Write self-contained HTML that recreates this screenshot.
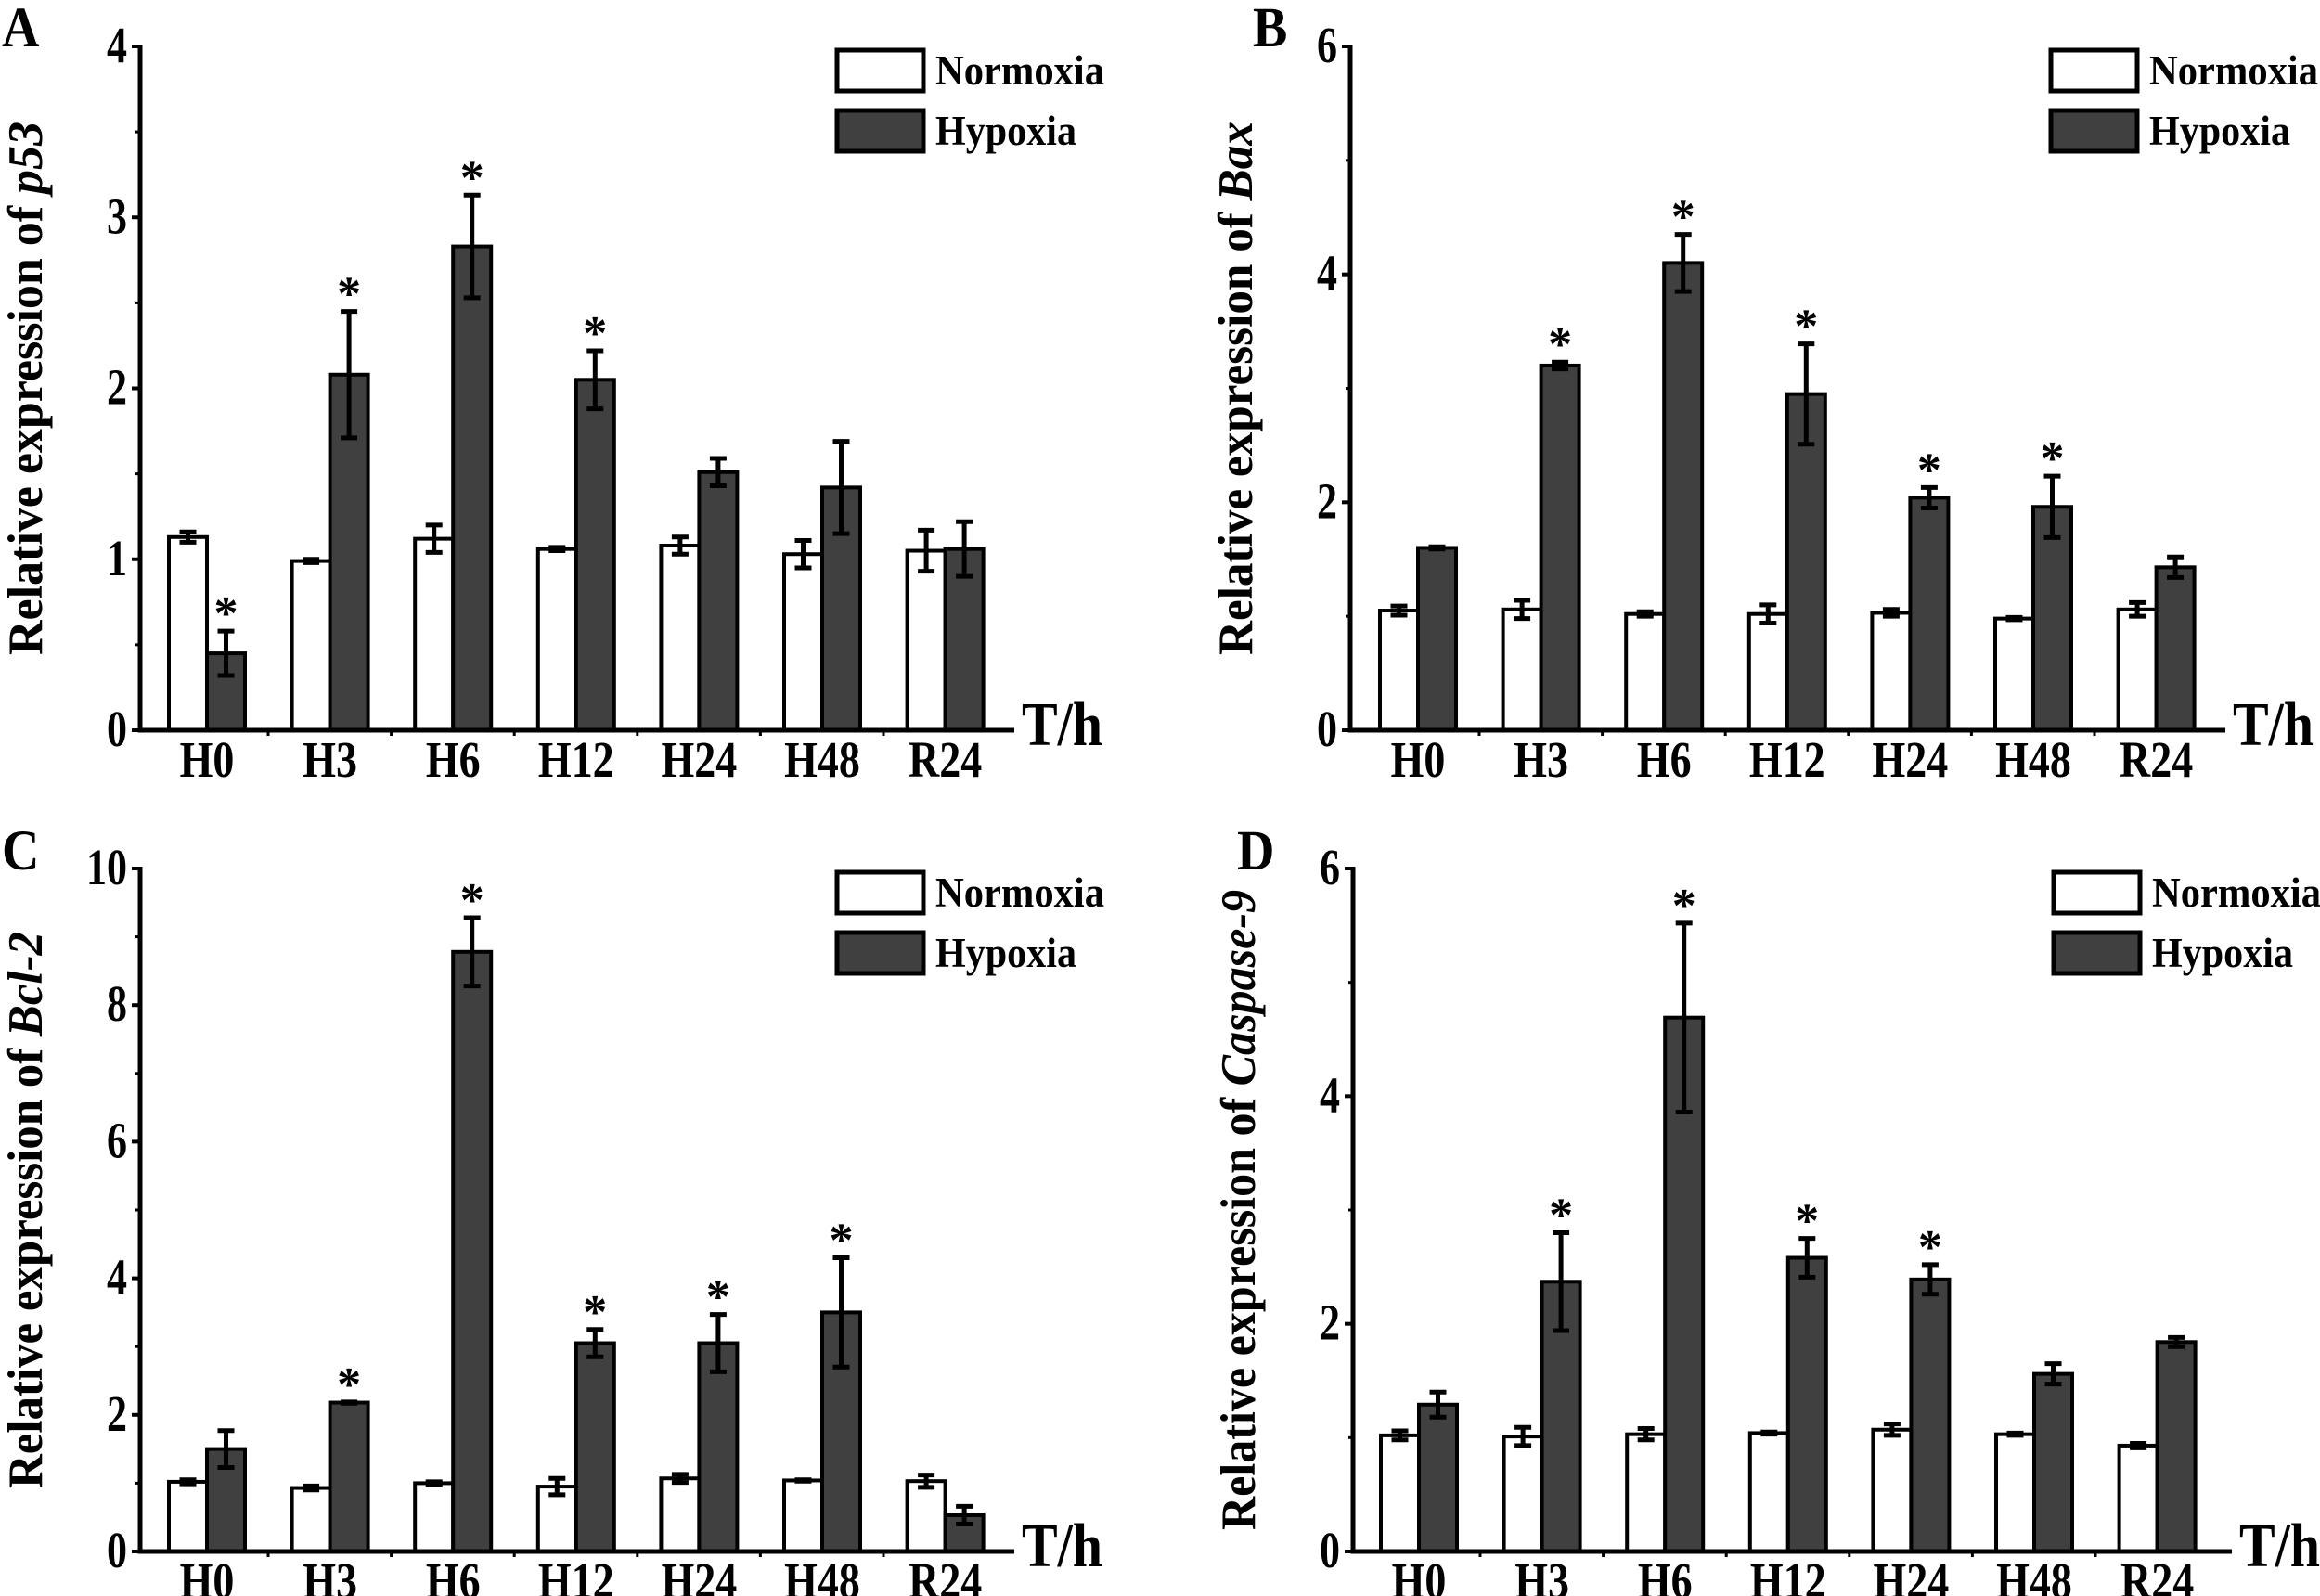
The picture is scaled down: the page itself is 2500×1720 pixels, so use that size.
<!DOCTYPE html>
<html><head><meta charset="utf-8"><style>
html,body{margin:0;padding:0;background:#fff;}
svg{display:block;font-family:"Liberation Serif",serif;font-weight:bold;}
</style></head><body>
<svg id="fig" width="2500" height="1720" viewBox="0 0 2500 1720" xmlns="http://www.w3.org/2000/svg"></svg>
<script>
const categories = ["H0","H3","H6","H12","H24","H48","R24"];
// Panel A: p53
const aNorm = [1.13,0.99,1.12,1.06,1.08,1.03,1.05];
const aNormErr = [0.03,0.01,0.08,0.01,0.05,0.08,0.12];
const aHyp = [0.45,2.08,2.83,2.05,1.51,1.42,1.06];
const aHypErr = [0.13,0.37,0.30,0.17,0.08,0.27,0.16];
const aStars = [1,1,1,1,0,0,0];
const aTicks = [0,1,2,3,4];
// Panel B: Bax
const bNorm = [1.05,1.06,1.02,1.02,1.03,0.98,1.06];
const bNormErr = [0.04,0.08,0.02,0.08,0.03,0.01,0.06];
const bHyp = [1.60,3.20,4.10,2.95,2.04,1.96,1.43];
const bHypErr = [0.01,0.03,0.25,0.44,0.09,0.27,0.09];
const bStars = [0,1,1,1,1,1,0];
const bTicks = [0,2,4,6];
// Panel C: Bcl-2
const cNorm = [1.02,0.93,1.00,0.95,1.07,1.04,1.03];
const cNormErr = [0.03,0.03,0.02,0.12,0.06,0.01,0.09];
const cHyp = [1.50,2.18,8.78,3.05,3.05,3.50,0.53];
const cHypErr = [0.27,0.01,0.50,0.20,0.42,0.80,0.13];
const cStars = [0,1,1,1,1,1,0];
const cTicks = [0,2,4,6,8,10];
// Panel D: Caspase-9
const dNorm = [1.02,1.01,1.03,1.04,1.07,1.03,0.93];
const dNormErr = [0.04,0.08,0.05,0.01,0.05,0.01,0.02];
const dHyp = [1.29,2.37,4.69,2.58,2.39,1.56,1.84];
const dHypErr = [0.11,0.43,0.83,0.17,0.13,0.09,0.04];
const dStars = [0,1,1,1,1,0,0];
const dTicks = [0,2,4,6];

const NS="http://www.w3.org/2000/svg";
const svg=document.getElementById('fig');
function mk(tag,attrs,parent){const e=document.createElementNS(NS,tag);for(const k in attrs)e.setAttribute(k,attrs[k]);(parent||svg).appendChild(e);return e;}
function tall(parent,str,x,y,size,sy,anchor){
  const t=mk('text',{transform:`translate(${x},${y}) scale(1,${sy})`,'text-anchor':anchor||'start','font-size':size},parent);
  t.textContent=str;return t;
}

function panel(o){
  const g=mk('g',{});
  
  
  const ax=o.ax, y0=o.y0, yTop=o.yTop, ymax=o.ticks[o.ticks.length-1];
  const yScale=v=>y0-(v/ymax)*(y0-yTop);
  const xScale=i=>o.c0+i*132.6;
  const bw=41;
  const L=tall(g,o.id,o.lx,o.ly,56,1.1);
  
  
  // y title
  const yt=mk('text',{transform:`translate(${ax-106},${(y0+yTop)/2}) rotate(-90) scale(1,1.15)`,'text-anchor':'middle','font-size':46,textLength:o.titleLen,lengthAdjust:'spacingAndGlyphs'},g);
  
  
  const s1=mk('tspan',{},yt);s1.textContent='Relative expression of ';
  const s2=mk('tspan',{'font-style':'italic'},yt);s2.textContent=o.gene;
  for(let i=0;i<categories.length;i++){
    const cx=xScale(i);
    const series=[[o.norm[i],o.normErr[i],'#fff',cx-bw,'normoxia'],[o.hyp[i],o.hypErr[i],'#404040',cx,'hypoxia']];
    series.forEach(s=>{
      const yv=yScale(s[0]);
      const r=mk('rect',{x:s[3],y:yv,width:bw,height:y0-yv,fill:s[2],stroke:'#000','stroke-width':4},g);
      
      
      const mx=s[3]+bw/2, t=yScale(s[0]+s[1]), b=yScale(s[0]-s[1]);
      const e=mk('path',{d:`M${mx},${t}V${b}M${mx-9},${t}H${mx+9}M${mx-9},${b}H${mx+9}`,stroke:'#000','stroke-width':5,fill:'none'},g);
      
      
    });
    if(o.stars[i]){
      const st=mk('text',{x:cx+bw/2,y:yScale(o.hyp[i]+o.hypErr[i])-2,'text-anchor':'middle','font-size':52},g);
      st.textContent='*';
      
      
    }
    const xl=tall(g,categories[i],cx,y0+50,46,1.2,'middle');
    
    
    if(i<categories.length-1){mk('line',{x1:cx+66,x2:cx+66,y1:y0,y2:y0+6,stroke:'#000','stroke-width':3},g);}
  }
  const axes=mk('path',{d:`M${ax},${yTop-2}V${y0}H${o.xEnd}`,stroke:'#000','stroke-width':5,fill:'none'},g);
  
  
  const step=o.ticks[1]-o.ticks[0];
  o.ticks.forEach((v,k)=>{
    const y=yScale(v);
    mk('line',{x1:ax-9,x2:ax,y1:y,y2:y,stroke:'#000','stroke-width':4},g);
    if(k>0){const ym=yScale(v-step/2);mk('line',{x1:ax-5,x2:ax,y1:ym,y2:ym,stroke:'#000','stroke-width':3},g);}
    const tl=tall(g,String(v),ax-14,y+17,44,1.25,'end');
    
    
  });
  const th=tall(g,'T/h',o.xEnd+8,y0+16,58,1.15);
  
  
  [['Normoxia','#fff',0,182],['Hypoxia','#404040',1,152]].forEach(l=>{
    const ly=o.legY+l[2]*65;
    const lr=mk('rect',{x:o.legX,y:ly,width:93,height:44,fill:l[1],stroke:'#000','stroke-width':5},g);
    
    
    const lt=mk('text',{transform:`translate(${o.legX+106},${ly+37}) scale(1,1.2)`,'font-size':38,textLength:l[3],lengthAdjust:'spacingAndGlyphs'},g);
    lt.textContent=l[0];
    
    
  });
}
panel({id:'A',gene:'p53',titleLen:575,norm:aNorm,normErr:aNormErr,hyp:aHyp,hypErr:aHypErr,stars:aStars,ticks:aTicks,ax:151,y0:787,yTop:50,c0:223,xEnd:1093,lx:2,ly:50,legX:902,legY:54});
panel({id:'B',gene:'Bax',titleLen:575,norm:bNorm,normErr:bNormErr,hyp:bHyp,hypErr:bHypErr,stars:bStars,ticks:bTicks,ax:1455,y0:787,yTop:50,c0:1528,xEnd:2398,lx:1350,ly:50,legX:2210,legY:54});
panel({id:'C',gene:'Bcl-2',titleLen:600,norm:cNorm,normErr:cNormErr,hyp:cHyp,hypErr:cHypErr,stars:cStars,ticks:cTicks,ax:151,y0:1672,yTop:936,c0:223,xEnd:1093,lx:2,ly:937,legX:902,legY:940});
panel({id:'D',gene:'Caspase-9',titleLen:690,norm:dNorm,normErr:dNormErr,hyp:dHyp,hypErr:dHypErr,stars:dStars,ticks:dTicks,ax:1458,y0:1672,yTop:936,c0:1529,xEnd:2405,lx:1333,ly:937,legX:2213,legY:940});
</script>
</body></html>
